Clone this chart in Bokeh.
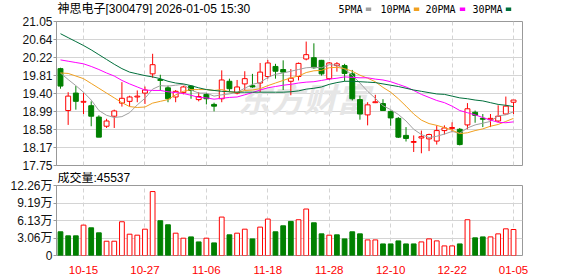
from bokeh.plotting import figure
from bokeh.layouts import column
from bokeh.models import FixedTicker, Label, Range1d, ColumnDataSource, Title
from bokeh.core.properties import value
from bokeh.embed import file_html
from bokeh.resources import INLINE

# ---------------- data ----------------
dates = ["10-10", "10-13", "10-14", "10-15", "10-16", "10-17", "10-20", "10-21", "10-22", "10-23",
         "10-24", "10-27", "10-28", "10-29", "10-30", "10-31", "11-03", "11-04", "11-05", "11-06",
         "11-07", "11-10", "11-11", "11-12", "11-13", "11-14", "11-17", "11-18", "11-19", "11-20",
         "11-21", "11-24", "11-25", "11-26", "11-27", "11-28", "12-01", "12-02", "12-03", "12-04",
         "12-05", "12-08", "12-09", "12-10", "12-11", "12-12", "12-15", "12-16", "12-17", "12-18",
         "12-19", "12-22", "12-23", "12-24", "12-25", "12-26", "12-29", "12-30", "12-31", "01-05"]

open_ = [19.97, 19.01, 19.41, 19.20, 19.12, 18.86, 18.65, 18.88, 19.18, 19.22,
         19.32, 19.41, 19.85, 19.72, 19.53, 19.32, 19.42, 19.57, 19.26, 19.38,
         19.15, 19.28, 19.68, 19.41, 19.62, 19.58, 19.64, 19.79, 20.02, 19.95,
         19.68, 19.79, 20.19, 20.22, 20.16, 19.74, 20.04, 20.04, 19.85, 19.26,
         18.91, 19.19, 19.17, 18.99, 18.83, 18.44, 18.28, 18.38, 18.36, 18.31,
         18.55, 18.60, 18.58, 18.68, 18.97, 18.83, 18.80, 18.77, 18.93, 19.20]
high = [19.99, 19.43, 19.57, 19.41, 19.22, 18.90, 18.82, 19.03, 19.66, 19.35,
        19.47, 19.56, 20.31, 19.83, 19.58, 19.48, 19.58, 19.58, 19.43, 19.41,
        19.19, 19.93, 19.74, 19.71, 19.91, 19.85, 20.10, 20.17, 20.08, 20.16,
        19.96, 20.11, 20.59, 20.55, 20.17, 20.12, 20.12, 20.08, 19.94, 19.35,
        19.20, 19.37, 19.27, 19.01, 18.86, 18.63, 18.44, 18.55, 18.48, 18.67,
        18.67, 18.74, 18.61, 19.18, 19.01, 18.93, 18.93, 19.13, 19.33, 19.25]
low = [19.51, 18.68, 19.03, 18.93, 18.65, 18.40, 18.61, 18.61, 19.10, 19.10,
       19.20, 19.16, 19.76, 19.47, 19.20, 19.20, 19.38, 19.28, 19.22, 19.15,
       18.99, 19.20, 19.43, 19.38, 19.48, 19.53, 19.43, 19.74, 19.74, 19.48,
       19.36, 19.70, 20.16, 19.97, 19.81, 19.71, 19.90, 19.68, 19.24, 18.80,
       18.67, 19.18, 19.01, 18.66, 18.38, 18.30, 18.06, 18.03, 18.08, 18.23,
       18.46, 18.51, 18.21, 18.58, 18.73, 18.63, 18.63, 18.74, 18.92, 18.93]
close = [19.57, 19.34, 19.22, 19.22, 18.88, 18.40, 18.77, 19.00, 19.29, 19.32,
         19.34, 19.48, 20.06, 19.70, 19.28, 19.45, 19.55, 19.47, 19.33, 19.28,
         19.11, 19.71, 19.51, 19.55, 19.74, 19.55, 19.89, 20.10, 19.91, 19.89,
         19.75, 20.09, 20.29, 19.99, 19.85, 20.10, 20.08, 19.86, 19.28, 18.93,
         19.14, 19.21, 19.01, 18.84, 18.40, 18.37, 18.30, 18.41, 18.46, 18.55,
         18.61, 18.62, 18.23, 19.05, 18.90, 18.81, 18.83, 18.88, 19.11, 19.25]

ma5 = [19.87, 19.72, 19.58, 19.43, 19.25, 19.01, 18.90, 18.85, 18.87, 18.96,
       19.14, 19.29, 19.50, 19.58, 19.57, 19.59, 19.61, 19.48, 19.41, 19.41,
       19.34, 19.37, 19.39, 19.43, 19.52, 19.61, 19.65, 19.77, 19.84, 19.87,
       19.91, 19.95, 19.99, 20.00, 19.99, 20.06, 20.05, 19.96, 19.82, 19.64,
       19.45, 19.29, 19.12, 19.03, 18.92, 18.77, 18.58, 18.46, 18.39, 18.42,
       18.47, 18.53, 18.49, 18.61, 18.68, 18.72, 18.76, 18.89, 18.91, 18.98]
ma10 = [19.87, 19.86, 19.80, 19.74, 19.63, 19.52, 19.41, 19.30, 19.19, 19.10,
        19.08, 19.09, 19.18, 19.22, 19.26, 19.37, 19.45, 19.49, 19.49, 19.49,
        19.47, 19.49, 19.44, 19.42, 19.47, 19.48, 19.51, 19.58, 19.64, 19.70,
        19.76, 19.80, 19.88, 19.92, 19.93, 19.99, 20.00, 19.97, 19.91, 19.82,
        19.75, 19.67, 19.54, 19.43, 19.28, 19.11, 18.93, 18.79, 18.71, 18.67,
        18.62, 18.56, 18.48, 18.50, 18.55, 18.59, 18.65, 18.69, 18.76, 18.83]
ma20 = [20.17, 20.14, 20.11, 20.08, 20.02, 19.95, 19.87, 19.80, 19.70, 19.62,
        19.55, 19.48, 19.47, 19.47, 19.44, 19.42, 19.40, 19.36, 19.31, 19.30,
        19.27, 19.29, 19.31, 19.32, 19.37, 19.42, 19.48, 19.53, 19.56, 19.59,
        19.61, 19.64, 19.66, 19.67, 19.70, 19.73, 19.75, 19.78, 19.77, 19.76,
        19.76, 19.73, 19.71, 19.67, 19.61, 19.55, 19.47, 19.38, 19.31, 19.24,
        19.19, 19.11, 19.01, 18.96, 18.91, 18.85, 18.79, 18.74, 18.73, 18.75]
ma30 = [20.77, 20.68, 20.59, 20.50, 20.40, 20.29, 20.18, 20.07, 19.97, 19.89,
        19.85, 19.81, 19.78, 19.74, 19.68, 19.64, 19.62, 19.58, 19.53, 19.49,
        19.47, 19.45, 19.44, 19.43, 19.43, 19.43, 19.43, 19.43, 19.43, 19.43,
        19.44, 19.46, 19.50, 19.52, 19.55, 19.61, 19.65, 19.68, 19.68, 19.67,
        19.66, 19.65, 19.62, 19.59, 19.56, 19.52, 19.48, 19.45, 19.42, 19.39,
        19.38, 19.34, 19.30, 19.28, 19.25, 19.23, 19.19, 19.15, 19.13, 19.10]

volume = [4.15, 3.44, 3.44, 5.32, 4.85, 3.97, 2.50, 2.50, 5.91, 3.73,
          3.56, 4.61, 11.20, 6.09, 5.38, 3.91, 3.03, 3.26, 2.38, 3.03,
          2.21, 6.73, 3.62, 3.91, 4.61, 2.91, 4.97, 6.38, 4.15, 5.20,
          5.97, 6.26, 8.14, 5.73, 3.79, 3.56, 3.62, 2.91, 4.15, 3.79,
          2.73, 2.73, 2.03, 2.03, 2.56, 2.03, 2.03, 2.38, 2.91, 2.56,
          1.68, 1.68, 2.03, 6.26, 3.09, 3.26, 3.26, 3.79, 4.67, 4.5537]
vol_up = [0, 0, 0, 1, 0, 0, 1, 1, 1, 1,
          1, 1, 1, 0, 0, 1, 1, 0, 0, 1,
          0, 1, 0, 1, 1, 0, 1, 1, 0, 0,
          0, 1, 1, 0, 0, 1, 0, 0, 0, 0,
          1, 1, 0, 0, 0, 0, 0, 1, 1, 1,
          1, 1, 0, 1, 0, 0, 1, 1, 1, 1]

tick_labels = ["10-15", "10-27", "11-06", "11-18", "11-28", "12-10", "12-22", "01-05"]
price_ticks = [17.75, 18.17, 18.58, 18.99, 19.40, 19.81, 20.22, 20.64, 21.05]
vol_ticks = [0, 3.06, 6.13, 9.19, 12.26]
vol_tick_labels = ["0", "3.06万", "6.13万", "9.19万", "12.26万"]

title_text = "神思电子[300479] 2026-01-05 15:30"
vol_title = "成交量:45537"
ma_names = ["5PMA", "10PMA", "20PMA", "30PMA"]

# ---------------- styles / layout ----------------
RED = "#ff0000"
GREEN = "#008000"
MA_COLORS = ["#a0a0a0", "#f0a020", "#ff00ff", "#006f3c"]
GRID = "#d4d4d4"
BORDER = "#999999"
FONT = "'Liberation Sans', 'Noto Sans CJK SC'"

W = 578
HH = 15                       # header row
H1, TOP1, BOT1 = 157, 6, 7    # price panel
H2, TOP2, BOT2 = 104, 13, 21  # volume panel
LEFT, RIGHT = 56, 56

n = len(dates)
xs = list(range(n))
x_range = Range1d(-0.52, n - 1 + 1.17)
y1_range = Range1d(price_ticks[0], price_ticks[-1])
y2_range = Range1d(vol_ticks[0], vol_ticks[-1])
tick_pos = [dates.index(t) for t in tick_labels]

frame_w = W - LEFT - RIGHT
px_x = (x_range.end - x_range.start) / frame_w
px_y1 = (y1_range.end - y1_range.start) / (H1 - TOP1 - BOT1)


def style(p):
    p.outline_line_color = BORDER
    p.outline_line_width = 1
    p.background_fill_color = "white"
    p.border_fill_color = "white"
    p.xgrid.ticker = FixedTicker(ticks=tick_pos)
    p.xgrid.grid_line_color = GRID
    p.xgrid.grid_line_dash = "4 3"
    p.ygrid.grid_line_color = GRID
    p.yaxis.axis_line_color = BORDER
    p.yaxis.major_tick_line_color = BORDER
    p.yaxis.major_tick_out = 3
    p.yaxis.major_tick_in = 0
    p.yaxis.minor_tick_line_color = None
    p.yaxis.major_label_standoff = 1
    p.yaxis.major_label_text_font = FONT
    p.yaxis.major_label_text_font_size = "12px"
    p.yaxis.major_label_text_color = "#111111"


# ---------------- header row (title + MA legend), pixel coordinates ----------------
hdr = figure(width=W, height=HH, x_range=Range1d(LEFT, W - RIGHT), y_range=Range1d(HH, 0),
             output_backend="svg", toolbar_location=None,
             x_axis_location=None, y_axis_location=None,
             min_border_left=LEFT, min_border_right=RIGHT, min_border_top=0, min_border_bottom=0)
hdr.grid.visible = False
hdr.outline_line_color = None
hdr.background_fill_color = "white"
hdr.border_fill_color = "white"
hdr.text(x=[LEFT + 1], y=[8], text=[title_text], text_font=value(FONT),
         text_font_size="12px", text_color="#000000",
         text_baseline="middle", text_align="left")
legend_x = [338, 380, 425, 472]
marker_x = [368, 416, 462, 508]
hdr.text(x=legend_x, y=[8.5] * len(ma_names), text=ma_names,
         text_font=value("DejaVu Sans Mono"), text_font_size="10px", text_color="#000000",
         text_baseline="middle", text_align="left")
hdr.rect(x=marker_x, y=[8.7] * len(ma_names), width=5.4, height=3.6,
         fill_color=MA_COLORS, line_color=None)

# ---------------- price figure ----------------
p1 = figure(width=W, height=H1, x_range=x_range, y_range=y1_range,
            output_backend="svg", toolbar_location=None,
            min_border_left=LEFT, min_border_right=RIGHT,
            min_border_top=TOP1, min_border_bottom=BOT1)
style(p1)
p1.xaxis.visible = False
p1.yaxis.ticker = FixedTicker(ticks=price_ticks)
p1.yaxis.major_label_overrides = {t: f"{t:.2f}" for t in price_ticks}

# watermark (East Money)
wm_x = x_range.start + (237 - LEFT) * px_x
wm_y = y1_range.end - (97 - 21) * px_y1
p1.add_layout(Label(x=wm_x, y=wm_y, text="东方财富", text_font="'Noto Sans CJK SC'",
                    text_font_size="33px", text_font_style="bold italic", text_color="#e6e6e6",
                    text_baseline="middle", text_align="left", level="underlay"))

up = [c >= o for o, c in zip(open_, close)]
src = ColumnDataSource(dict(
    x=xs, high=high, low=low,
    top=[max(o, c) for o, c in zip(open_, close)],
    bottom=[min(o, c) for o, c in zip(open_, close)],
    color=[RED if u else GREEN for u in up],
    fill=["white" if u else GREEN for u in up],
))
p1.segment(x0="x", y0="low", x1="x", y1="high", color="color", line_width=1, source=src)
p1.vbar(x="x", width=0.64, top="top", bottom="bottom", fill_color="fill",
        line_color="color", line_width=1, source=src)

for vals, col in zip([ma5, ma10, ma20, ma30], MA_COLORS):
    p1.line(xs, vals, line_color=col, line_width=1)

# ---------------- volume figure ----------------
p2 = figure(width=W, height=H2, x_range=x_range, y_range=y2_range,
            output_backend="svg", toolbar_location=None,
            min_border_left=LEFT, min_border_right=RIGHT,
            min_border_top=TOP2, min_border_bottom=BOT2)
p2.title = Title(text=vol_title, align="left", offset=1, standoff=-3,
                 vertical_align="top", text_baseline="top",
                 text_font=FONT, text_font_size="12px", text_font_style="normal",
                 text_color="#000000")
style(p2)
p2.yaxis.ticker = FixedTicker(ticks=vol_ticks)
p2.yaxis.major_label_overrides = dict(zip(vol_ticks, vol_tick_labels))
p2.ygrid.ticker = FixedTicker(ticks=vol_ticks[1:-1])

p2.xaxis.ticker = FixedTicker(ticks=tick_pos)
p2.xaxis.major_label_overrides = dict(zip(tick_pos, tick_labels))
p2.xaxis.axis_line_color = None
p2.xaxis.major_tick_line_color = None
p2.xaxis.minor_tick_line_color = None
p2.xaxis.major_label_standoff = 4
p2.xaxis.major_label_text_color = RED
p2.xaxis.major_label_text_font = FONT
p2.xaxis.major_label_text_font_size = "11.5px"

vsrc = ColumnDataSource(dict(
    x=xs, v=volume,
    color=[RED if u else GREEN for u in vol_up],
    fill=["white" if u else GREEN for u in vol_up],
))
p2.vbar(x="x", width=0.62, top="v", bottom=0, fill_color="fill", line_color="color",
        line_width=1, source=vsrc)

layout = column(hdr, p1, p2, spacing=0)
open("out.html", "w").write(file_html(layout, INLINE))
